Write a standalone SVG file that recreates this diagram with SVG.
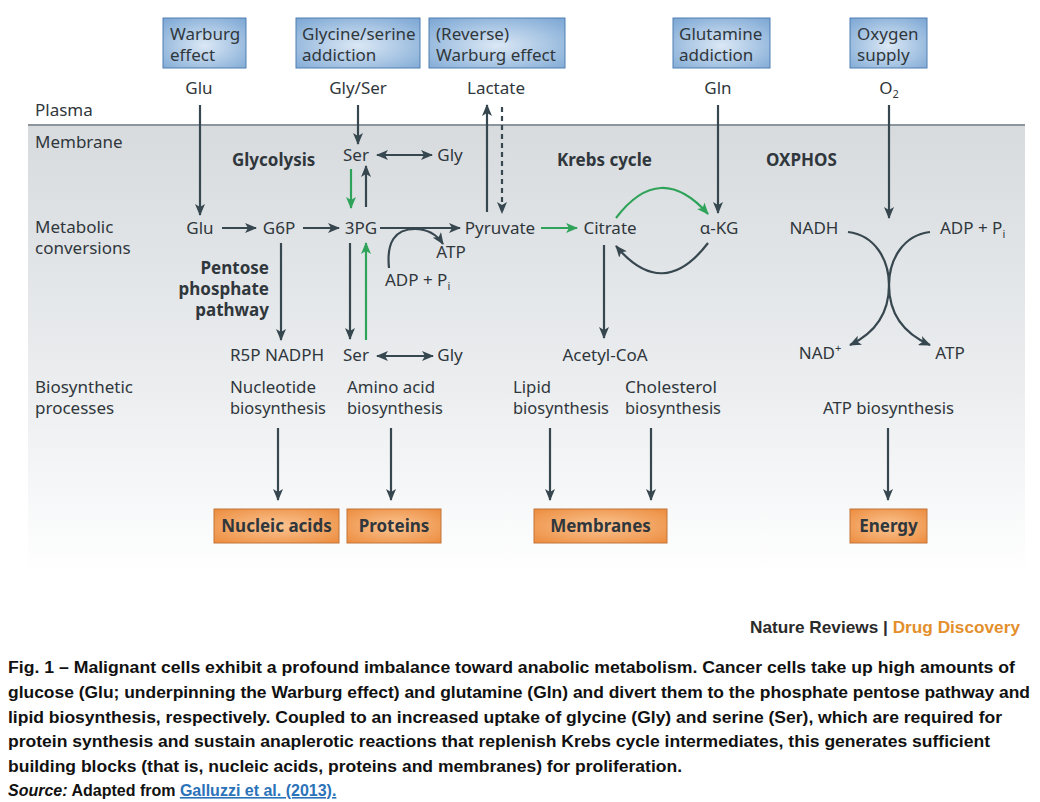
<svg xmlns="http://www.w3.org/2000/svg" width="1040" height="802" viewBox="0 0 1040 802">
<defs>
<style>
.t{font-family:"Noto Sans","Open Sans","DejaVu Sans",sans-serif;font-size:17px;fill:#30373c}
.b{font-weight:bold}
.n{font-size:16px}
.cap{font-family:"Liberation Sans","DejaVu Sans",sans-serif;font-size:16px;font-weight:bold;fill:#111}
.ln{fill:none;stroke:#37474f;stroke-width:2.2;marker-end:url(#ah)}
.gn{fill:none;stroke:#2fa35a;stroke-width:2.2;marker-end:url(#ahg)}
.bbox{fill:url(#blueG);stroke:#4e7eb1;stroke-width:1}
.obox{fill:url(#orG);stroke:#c0743a;stroke-width:1}
</style>
<linearGradient id="bg" x1="0" y1="0" x2="0" y2="1">
<stop offset="0" stop-color="#d7dbde"/>
<stop offset="0.6" stop-color="#eceef0"/>
<stop offset="1" stop-color="#ffffff"/>
</linearGradient>
<radialGradient id="blueG" cx="0.5" cy="0.55" r="0.7">
<stop offset="0" stop-color="#dbe8f5"/>
<stop offset="1" stop-color="#7fa9d5"/>
</radialGradient>
<radialGradient id="orG" cx="0.5" cy="0.5" r="0.7">
<stop offset="0" stop-color="#fbc593"/>
<stop offset="1" stop-color="#ec8c3e"/>
</radialGradient>
<marker id="ah" viewBox="0 0 12 10" refX="11" refY="5" markerWidth="12" markerHeight="10" orient="auto-start-reverse" markerUnits="userSpaceOnUse">
<path d="M0,0 L12,5 L0,10 L3,5 z" fill="#37474f"/>
</marker>
<marker id="ahg" viewBox="0 0 12 10" refX="11" refY="5" markerWidth="12" markerHeight="10" orient="auto-start-reverse" markerUnits="userSpaceOnUse">
<path d="M0,0 L12,5 L0,10 L3,5 z" fill="#2fa35a"/>
</marker>
</defs>

<rect x="0" y="0" width="1040" height="802" fill="#ffffff"/>
<rect x="28" y="125" width="997" height="450" fill="url(#bg)"/>
<line x1="28" y1="125" x2="1025" y2="125" stroke="#8c959b" stroke-width="2"/>

<g id="row-labels" class="t">
<text x="35" y="116">Plasma</text>
<text x="35" y="148">Membrane</text>
<text x="35" y="233">Metabolic</text>
<text x="35" y="254">conversions</text>
<text x="35" y="393">Biosynthetic</text>
<text x="35" y="414">processes</text>
</g>

<g id="box-warburg"><rect class="bbox" x="163" y="18" width="83" height="50"/><text class="t" x="170" y="40">Warburg</text><text class="t" x="170" y="61">effect</text></g>
<g id="box-glyser"><rect class="bbox" x="296" y="18" width="124" height="50"/><text class="t" x="302" y="40">Glycine/serine</text><text class="t" x="302" y="61">addiction</text></g>
<g id="box-reverse"><rect class="bbox" x="429" y="18" width="136" height="50"/><text class="t" x="436" y="40">(Reverse)</text><text class="t" x="436" y="61">Warburg effect</text></g>
<g id="box-glutamine"><rect class="bbox" x="673" y="18" width="97" height="50"/><text class="t" x="679" y="40">Glutamine</text><text class="t" x="679" y="61">addiction</text></g>
<g id="box-oxygen"><rect class="bbox" x="850" y="18" width="77" height="50"/><text class="t" x="857" y="40">Oxygen</text><text class="t" x="857" y="61">supply</text></g>

<g id="n-glu-out"><text class="t" x="199" y="94" text-anchor="middle">Glu</text></g>
<g id="n-glyser-out"><text class="t" x="358" y="94" text-anchor="middle">Gly/Ser</text></g>
<g id="n-lactate"><text class="t" x="496" y="94" text-anchor="middle">Lactate</text></g>
<g id="n-gln"><text class="t" x="718" y="94" text-anchor="middle">Gln</text></g>
<g id="n-o2"><text class="t" x="889" y="94" text-anchor="middle">O<tspan font-size="11" dy="4">2</tspan></text></g>

<g id="section-titles" class="t b">
<text x="232" y="166">Glycolysis</text>
<text x="557" y="166">Krebs cycle</text>
<text x="766" y="166">OXPHOS</text>
<text x="269" y="274" text-anchor="end">Pentose</text>
<text x="269" y="295" text-anchor="end">phosphate</text>
<text x="269" y="316" text-anchor="end">pathway</text>
</g>

<g id="n-ser1"><text class="t" x="356" y="161" text-anchor="middle">Ser</text></g>
<g id="n-gly1"><text class="t" x="450" y="161" text-anchor="middle">Gly</text></g>
<g id="n-glu"><text class="t" x="200" y="234" text-anchor="middle">Glu</text></g>
<g id="n-g6p"><text class="t" x="279" y="234" text-anchor="middle">G6P</text></g>
<g id="n-3pg"><text class="t" x="361" y="234" text-anchor="middle">3PG</text></g>
<g id="n-pyruvate"><text class="t" x="500" y="234" text-anchor="middle">Pyruvate</text></g>
<g id="n-citrate"><text class="t" x="610" y="234" text-anchor="middle">Citrate</text></g>
<g id="n-akg"><text class="t" x="719" y="234" text-anchor="middle">α-KG</text></g>
<g id="n-nadh"><text class="t" x="814" y="234" text-anchor="middle">NADH</text></g>
<g id="n-adp2"><text class="t" x="940" y="234">ADP + P<tspan font-size="11" dy="4">i</tspan></text></g>
<g id="n-atp1"><text class="t" x="451" y="258" text-anchor="middle">ATP</text></g>
<g id="n-adp1"><text class="t" x="385" y="286">ADP + P<tspan font-size="11" dy="4">i</tspan></text></g>
<g id="n-r5p"><text class="t" x="230" y="361">R5P NADPH</text></g>
<g id="n-ser2"><text class="t" x="356" y="361" text-anchor="middle">Ser</text></g>
<g id="n-gly2"><text class="t" x="450" y="361" text-anchor="middle">Gly</text></g>
<g id="n-acetyl"><text class="t" x="605" y="361" text-anchor="middle">Acetyl-CoA</text></g>
<g id="n-nad"><text class="t" x="820" y="359" text-anchor="middle">NAD<tspan font-size="11" dy="-7">+</tspan></text></g>
<g id="n-atp2"><text class="t" x="950" y="359" text-anchor="middle">ATP</text></g>

<g id="n-bio-nuc"><text class="t n" x="230" y="393" textLength="86" lengthAdjust="spacingAndGlyphs">Nucleotide</text><text class="t n" x="230" y="414" textLength="96" lengthAdjust="spacingAndGlyphs">biosynthesis</text></g>
<g id="n-bio-amino"><text class="t n" x="347" y="393" textLength="88" lengthAdjust="spacingAndGlyphs">Amino acid</text><text class="t n" x="347" y="414" textLength="96" lengthAdjust="spacingAndGlyphs">biosynthesis</text></g>
<g id="n-bio-lipid"><text class="t n" x="513" y="393" textLength="38" lengthAdjust="spacingAndGlyphs">Lipid</text><text class="t n" x="513" y="414" textLength="96" lengthAdjust="spacingAndGlyphs">biosynthesis</text></g>
<g id="n-bio-chol"><text class="t n" x="625" y="393" textLength="92" lengthAdjust="spacingAndGlyphs">Cholesterol</text><text class="t n" x="625" y="414" textLength="96" lengthAdjust="spacingAndGlyphs">biosynthesis</text></g>
<g id="n-bio-atp"><text class="t n" x="823" y="414" textLength="131" lengthAdjust="spacingAndGlyphs">ATP biosynthesis</text></g>

<g id="out-nucleic"><rect class="obox" x="214" y="509" width="125" height="34"/><text class="t b" x="276.5" y="532" text-anchor="middle">Nucleic acids</text></g>
<g id="out-proteins"><rect class="obox" x="347" y="509" width="94" height="34"/><text class="t b" x="394" y="532" text-anchor="middle">Proteins</text></g>
<g id="out-membranes"><rect class="obox" x="534" y="509" width="133" height="34"/><text class="t b" x="600.5" y="532" text-anchor="middle">Membranes</text></g>
<g id="out-energy"><rect class="obox" x="850" y="509" width="77" height="34"/><text class="t b" x="888.5" y="532" text-anchor="middle">Energy</text></g>

<g id="connectors">
<path class="ln" d="M200,105 L200,215"/>
<path class="ln" d="M358,105 L358,144"/>
<path class="ln" d="M487,212 L487,105"/>
<path class="ln" d="M502,107 L502,213" stroke-dasharray="5,4"/>
<path class="ln" d="M718,105 L718,213"/>
<path class="ln" d="M889,105 L889,218"/>
<path class="ln" d="M377,155 L432,155" marker-start="url(#ah)"/>
<path class="gn" d="M351,169 L351,208"/>
<path class="ln" d="M366,207 L366,166"/>
<path class="ln" d="M222,228 L256,228"/>
<path class="ln" d="M303,228 L339,228"/>
<path class="ln" d="M380,228 L460,228"/>
<path class="gn" d="M541,228 L577,228"/>
<path class="ln" d="M389,268 Q385,229 415,229 Q433,229 443,244"/>
<path class="ln" d="M281,243 L281,340"/>
<path class="ln" d="M350,243 L350,339"/>
<path class="gn" d="M366,340 L366,243"/>
<path class="ln" d="M377,356 L433,356" marker-start="url(#ah)"/>
<path class="ln" d="M604,245 L604,338"/>
<path class="gn" d="M616,218 Q660,160 708,214"/>
<path class="ln" d="M708,243 Q663,302 616,246"/>
<path class="ln" d="M848,232 C875,235 889,260 889,285 C889,315 905,334 930,345"/>
<path class="ln" d="M930,232 C903,235 889,260 889,285 C889,315 873,334 850,345"/>
<path class="ln" d="M278,428 L278,500"/>
<path class="ln" d="M391,428 L391,500"/>
<path class="ln" d="M550,428 L550,500"/>
<path class="ln" d="M651,428 L651,500"/>
<path class="ln" d="M888,428 L888,500"/>
</g>

<g id="credit"><text x="1020" y="633" text-anchor="end" font-family="Liberation Sans, DejaVu Sans, sans-serif" font-size="17" font-weight="bold" textLength="270" lengthAdjust="spacingAndGlyphs"><tspan fill="#2b2b2b">Nature Reviews | </tspan><tspan fill="#e38f2c">Drug Discovery</tspan></text></g>

<g id="caption">
<text class="cap" x="8" y="673" textLength="1007" lengthAdjust="spacingAndGlyphs">Fig. 1 – Malignant cells exhibit a profound imbalance toward anabolic metabolism. Cancer cells take up high amounts of</text>
<text class="cap" x="8" y="698" textLength="1022" lengthAdjust="spacingAndGlyphs">glucose (Glu; underpinning the Warburg effect) and glutamine (Gln) and divert them to the phosphate pentose pathway and</text>
<text class="cap" x="8" y="723" textLength="994" lengthAdjust="spacingAndGlyphs">lipid biosynthesis, respectively. Coupled to an increased uptake of glycine (Gly) and serine (Ser), which are required for</text>
<text class="cap" x="8" y="747" textLength="982" lengthAdjust="spacingAndGlyphs">protein synthesis and sustain anaplerotic reactions that replenish Krebs cycle intermediates, this generates sufficient</text>
<text class="cap" x="8" y="772" textLength="674" lengthAdjust="spacingAndGlyphs">building blocks (that is, nucleic acids, proteins and membranes) for proliferation.</text>
<text class="cap" x="8" y="796"><tspan font-style="italic">Source:</tspan> Adapted from <tspan fill="#2b72b8" text-decoration="underline">Galluzzi et al. (2013).</tspan></text>
</g>
</svg>
